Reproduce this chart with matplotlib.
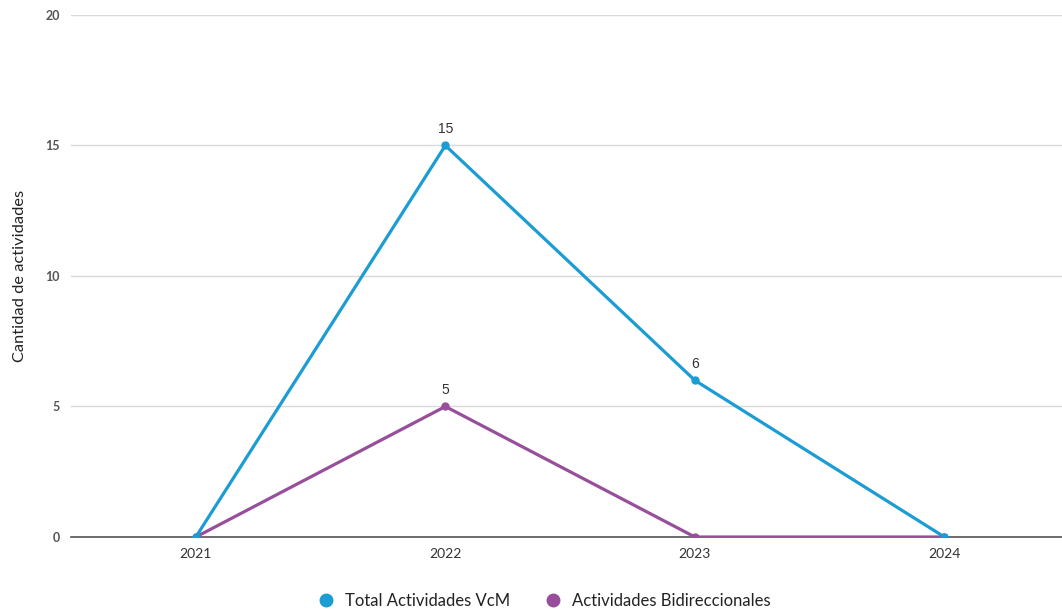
import matplotlib
matplotlib.use('Agg')
import matplotlib.pyplot as plt
from matplotlib.lines import Line2D

years = ['2021', '2022', '2023', '2024']
total_vcm = [0, 15, 6, 0]
bidireccionales = [0, 5, 0, 0]
total_labels = [None, '15', '6', None]
bidir_labels = [None, '5', None, None]

blue = '#1b9cd3'
purple = '#974f9c'

fig = plt.figure(figsize=(10.62, 6.11), dpi=100)
ax = fig.add_axes([0.0669, 0.1211, 1 - 0.0669, 0.8544])

x = list(range(len(years)))
ax.plot(x, total_vcm, color=blue, lw=2.3, marker='o', ms=5, zorder=4)
ax.plot(x, bidireccionales, color=purple, lw=2.3, marker='o', ms=5, zorder=3)

for xi, v, lab in zip(x, total_vcm, total_labels):
    if lab:
        ax.annotate(lab, (xi, v), xytext=(0, 7), textcoords='offset points',
                    ha='center', va='bottom', fontsize=10, color='#333333',
                    family='Liberation Sans')
for xi, v, lab in zip(x, bidireccionales, bidir_labels):
    if lab:
        ax.annotate(lab, (xi, v), xytext=(0, 7), textcoords='offset points',
                    ha='center', va='bottom', fontsize=10, color='#333333',
                    family='Liberation Sans')

ax.set_xlim(-0.5, 3.471)
ax.set_ylim(0, 20)
ax.set_yticks([0, 5, 10, 15, 20])
ax.set_xticks(x)
ax.set_xticklabels(years, family='Lato', fontsize=10, color='#333333')
for t in ax.get_yticklabels():
    t.set_family('Lato')
    t.set_fontweight('bold')
    t.set_fontsize(9)
    t.set_color('#555555')
ax.tick_params(axis='y', length=0, pad=8)
ax.tick_params(axis='x', length=0, pad=8)

ax.grid(axis='y', color='#d9d9d9', lw=1)
ax.set_axisbelow(True)
for s in ['top', 'right', 'left']:
    ax.spines[s].set_visible(False)
ax.spines['bottom'].set_color('#555555')
ax.spines['bottom'].set_linewidth(1.2)

ax.set_ylabel('Cantidad de actividades', family='Lato', fontsize=11.8,
              color='#222222')
ax.yaxis.set_label_coords(-0.044, 0.5)

handles = [Line2D([], [], color=blue, marker='o', ls='none', ms=9),
           Line2D([], [], color=purple, marker='o', ls='none', ms=9)]
fig.legend(handles, ['Total Actividades VcM', 'Actividades Bidireccionales'],
           loc='center', bbox_to_anchor=(540 / 1062, 1 - 601 / 611), ncol=2,
           frameon=False, prop={'family': 'Lato', 'size': 12},
           handletextpad=0.15, columnspacing=1.6, labelcolor='#222222')

fig.savefig('out.png', dpi=100)
